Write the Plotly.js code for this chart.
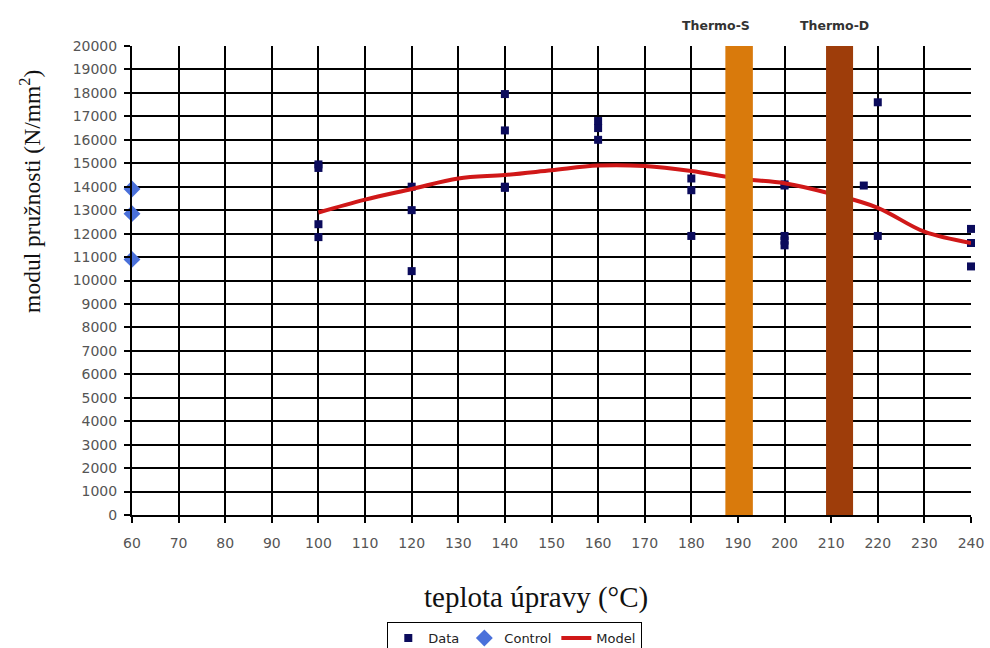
<!DOCTYPE html>
<html>
<head>
<meta charset="utf-8">
<script src="https://cdn.plot.ly/plotly-3.0.1.min.js"></script>
<style>
  html, body { margin: 0; padding: 0; background: #ffffff; }
  #chart { width: 990px; height: 648px; }
</style>
</head>
<body>
<div id="chart"></div>
<script>
// Measured samples: treatment temperature (°C) and modulus of elasticity (N/mm²)
const dataTemp = [100, 100, 100, 100,
                  120, 120, 120,
                  140, 140, 140, 140,
                  160, 160, 160,
                  180, 180, 180,
                  200, 200, 200, 200, 200,
                  217,
                  220, 220,
                  240, 240, 240];
const dataModulus = [14950, 14800, 12400, 11850,
                     14000, 13000, 10400,
                     17950, 16400, 14000, 13950,
                     16800, 16500, 16000,
                     14350, 13850, 11900,
                     14100, 14050, 11900, 11700, 11500,
                     14050,
                     17600, 11900,
                     12200, 11600, 10600];

// Untreated control samples
const controlTemp = [60, 60, 60];
const controlModulus = [13900, 12850, 10900];

// Fitted model curve
const modelTemp = [100, 110, 120, 130, 140, 150, 160, 170, 180, 190, 200, 210, 220, 230, 240];
const modelModulus = [12900, 13450, 13900, 14350, 14500, 14700, 14900, 14880, 14670, 14350, 14150, 13700, 13100, 12080, 11600];

// Industrial treatment ranges
const bandNames = ['Thermo-S', 'Thermo-D'];
const bandStart = [187.3, 208.9];
const bandEnd = [193.2, 214.7];
const bandColors = ['#D97A0C', '#9E3D0A'];
const bandLabelShift = [-23, -5];

// Axis ticks
const xTicks = [60, 70, 80, 90, 100, 110, 120, 130, 140, 150, 160, 170, 180, 190, 200, 210, 220, 230, 240];
const yTicks = [0, 1000, 2000, 3000, 4000, 5000, 6000, 7000, 8000, 9000, 10000,
                11000, 12000, 13000, 14000, 15000, 16000, 17000, 18000, 19000, 20000];

const sans = 'DejaVu Sans, Verdana, sans-serif';
const serif = 'Liberation Serif, Times New Roman, serif';

const traces = [
  {
    type: 'scatter', mode: 'markers', name: 'Data',
    x: dataTemp, y: dataModulus,
    marker: { symbol: 'square', size: 8, color: '#0B0B5C' },
    cliponaxis: false
  },
  {
    type: 'scatter', mode: 'markers', name: 'Control',
    x: controlTemp, y: controlModulus,
    marker: { symbol: 'diamond', size: 13, color: '#4A70DA' },
    cliponaxis: false
  },
  {
    type: 'scatter', mode: 'lines', name: 'Model',
    x: modelTemp, y: modelModulus,
    line: { color: '#D01818', width: 4, shape: 'spline', smoothing: 1 }
  }
];

const shapes = bandNames.map((n, i) => ({
  type: 'rect', xref: 'x', yref: 'paper',
  x0: bandStart[i], x1: bandEnd[i], y0: 0, y1: 1,
  fillcolor: bandColors[i], line: { width: 0 }, layer: 'above'
}));

const annotations = bandNames.map((n, i) => ({
  text: '<b>' + n + '</b>',
  xref: 'x', yref: 'paper',
  x: (bandStart[i] + bandEnd[i]) / 2, xshift: bandLabelShift[i], y: 1,
  yanchor: 'bottom', yshift: 11, showarrow: false,
  font: { family: sans, size: 12.5, color: '#333333' }
}));

// Axis titles placed as free annotations
annotations.push({
  text: 'teplota úpravy (°C)',
  xref: 'paper', yref: 'paper', x: 0.4815, y: -0.175,
  xanchor: 'center', yanchor: 'middle', showarrow: false,
  font: { family: serif, size: 29, color: '#111111' }
});
annotations.push({
  text: 'modul pružnosti (N/mm<sup>2</sup>)',
  xref: 'paper', yref: 'paper', x: -0.1216, y: 0.691, textangle: -90,
  xanchor: 'center', yanchor: 'middle', showarrow: false,
  font: { family: serif, size: 23.5, color: '#111111' }
});

const layout = {
  width: 990, height: 648,
  paper_bgcolor: '#ffffff', plot_bgcolor: '#ffffff',
  margin: { l: 132, r: 19, t: 46, b: 133, autoexpand: false },
  showlegend: true,
  legend: {
    orientation: 'h', xref: 'container', yref: 'container',
    x: 0.52, xanchor: 'center', y: 0.04, yanchor: 'top',
    bordercolor: '#000000', borderwidth: 1, bgcolor: '#ffffff',
    font: { family: sans, size: 13, color: '#222222' },
    itemwidth: 30, tracegroupgap: 0
  },
  xaxis: {
    range: [60, 240], tickvals: xTicks, ticktext: xTicks.map(String),
    showgrid: true, gridcolor: '#000000', gridwidth: 2,
    showline: true, linecolor: '#000000', linewidth: 2,
    ticks: 'outside', ticklen: 6, tickwidth: 2, tickcolor: '#000000',
    ticklabelstandoff: 8,
    zeroline: false,
    tickfont: { family: sans, size: 14, color: '#555555' }
  },
  yaxis: {
    range: [0, 20000], tickvals: yTicks, ticktext: yTicks.map(String),
    showgrid: true, gridcolor: '#000000', gridwidth: 2,
    showline: true, linecolor: '#000000', linewidth: 2,
    ticks: 'outside', ticklen: 6, tickwidth: 2, tickcolor: '#000000',
    ticklabelstandoff: 4,
    zeroline: false,
    tickfont: { family: sans, size: 14, color: '#555555' }
  },
  shapes: shapes,
  annotations: annotations
};

Plotly.newPlot('chart', traces, layout, { staticPlot: true, displayModeBar: false });
</script>
</body>
</html>
